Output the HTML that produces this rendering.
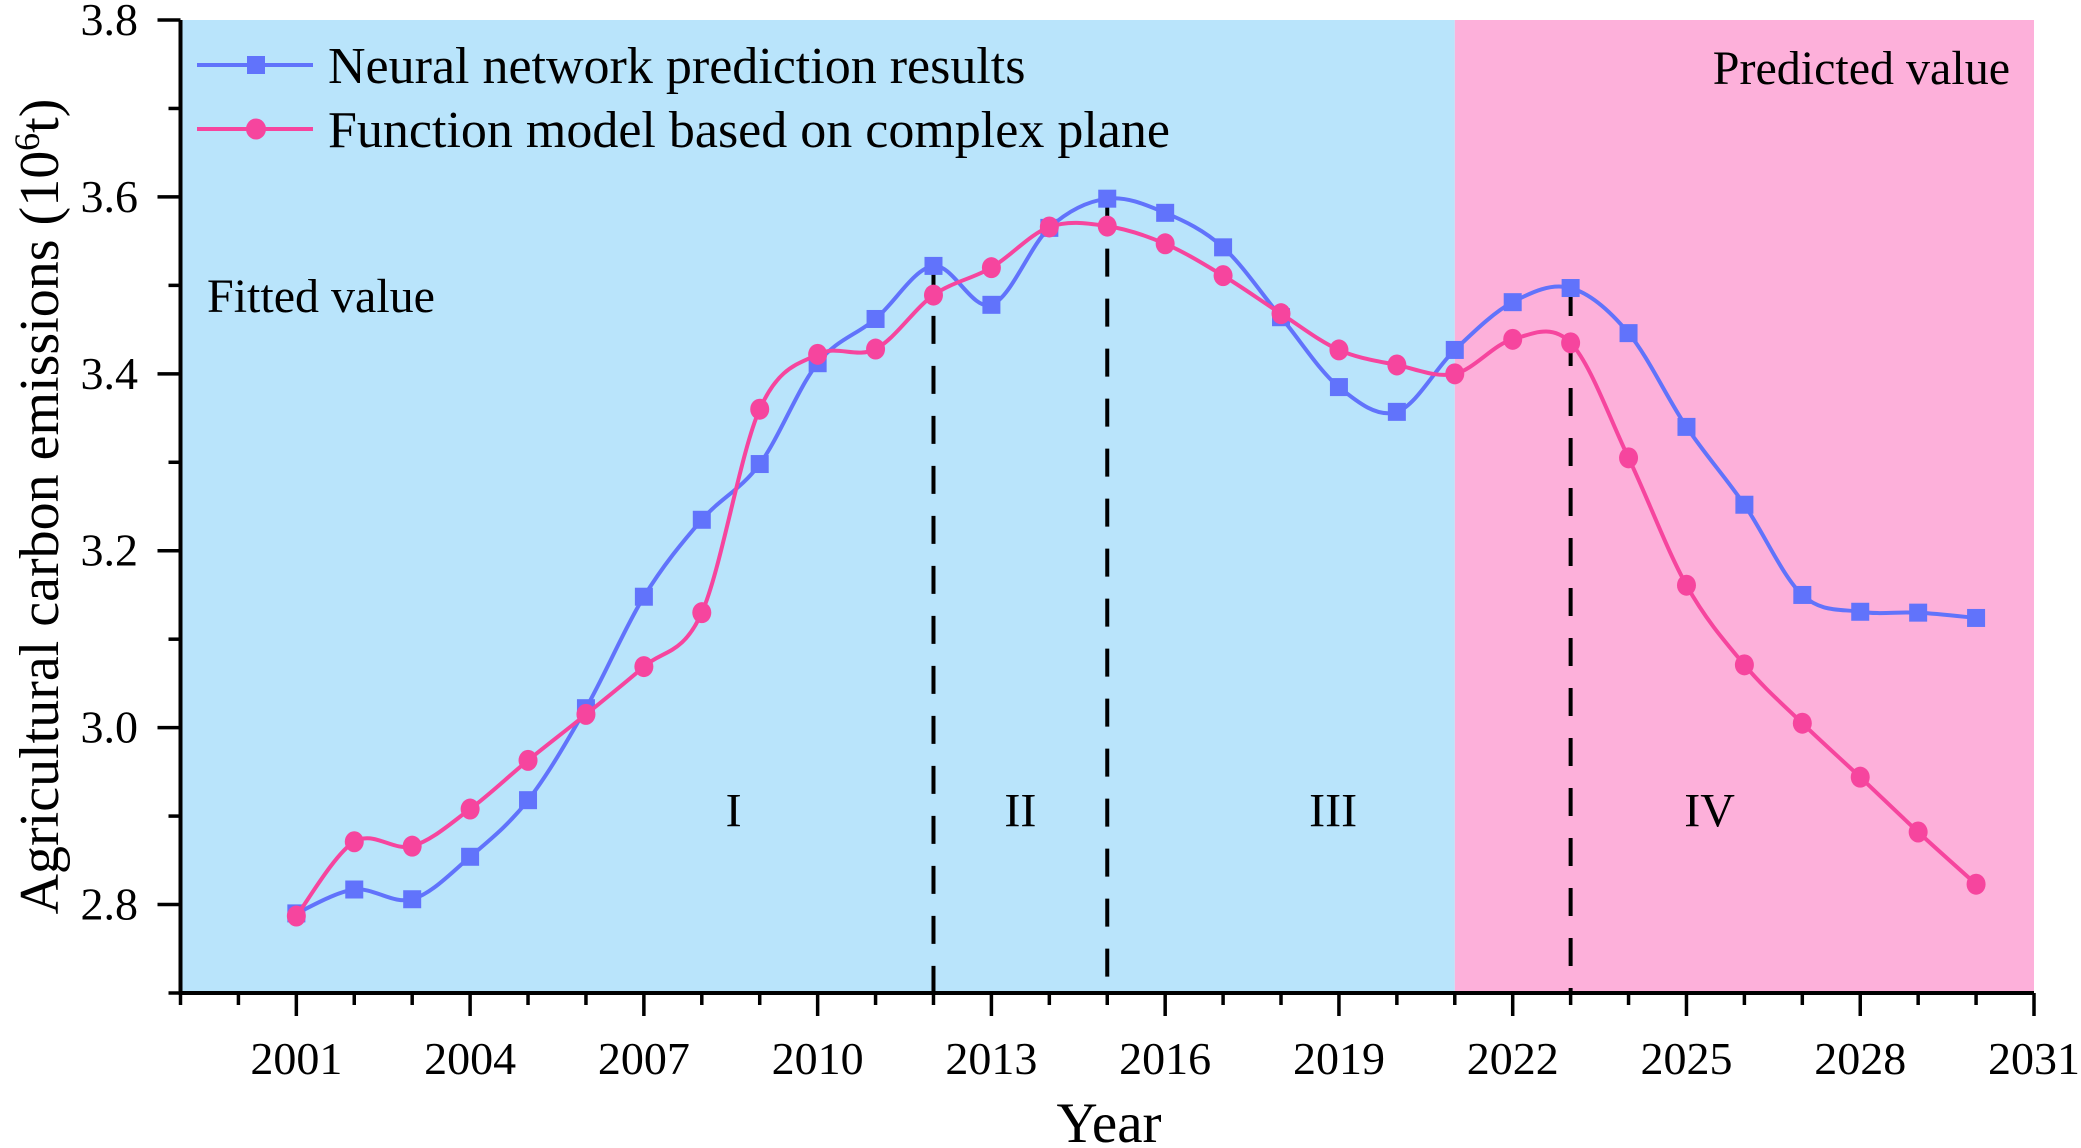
<!DOCTYPE html>
<html><head><meta charset="utf-8"><style>
html,body{margin:0;padding:0;background:#fff}
svg{display:block;font-family:"Liberation Serif",serif}
</style></head><body>
<svg id="chart" width="2081" height="1148" viewBox="0 0 2081 1148" xmlns="http://www.w3.org/2000/svg"></svg>
<script>
const years=[2001,2002,2003,2004,2005,2006,2007,2008,2009,2010,2011,2012,2013,2014,2015,2016,2017,2018,2019,2020,2021,2022,2023,2024,2025,2026,2027,2028,2029,2030];
const neural=[2.790,2.817,2.806,2.854,2.918,3.022,3.148,3.235,3.298,3.412,3.462,3.522,3.478,3.565,3.598,3.582,3.543,3.464,3.385,3.357,3.427,3.481,3.497,3.446,3.340,3.252,3.150,3.131,3.130,3.124];
const complexModel=[2.787,2.871,2.866,2.908,2.963,3.015,3.069,3.130,3.360,3.422,3.428,3.489,3.520,3.566,3.567,3.547,3.511,3.468,3.427,3.410,3.400,3.439,3.435,3.305,3.161,3.071,3.005,2.944,2.882,2.823];
const xTicks=[2001,2004,2007,2010,2013,2016,2019,2022,2025,2028,2031];
const yTicks=[2.8,3.0,3.2,3.4,3.6,3.8];
const dividerYears=[2012,2015,2023];
const stageLabels=["I","II","III","IV"];
const stageYears=[2008.55,2013.5,2018.9,2025.4];
const stageValue=2.905;
const forecastStart=2021;

const L=180.5,R=2034,T=20,B=993,X0=1999,X1=2031,Y0=2.7,Y1=3.8;
const sx=v=>L+(v-X0)/(X1-X0)*(R-L);
const sy=v=>B-(v-Y0)/(Y1-Y0)*(B-T);
const svg=document.getElementById('chart');
const NS='http://www.w3.org/2000/svg';
function mk(tag,attrs,parent){const e=document.createElementNS(NS,tag);for(const k in attrs)e.setAttribute(k,attrs[k]);(parent||svg).appendChild(e);return e;}

let r=mk('rect',{x:L,y:T,width:sx(forecastStart)-L,height:B-T,fill:'#b9e4fb'});


r=mk('rect',{x:sx(forecastStart),y:T,width:R-sx(forecastStart),height:B-T,fill:'#fdb0da'});



dividerYears.forEach(y=>{const i=years.indexOf(y);const top=Math.max(neural[i],complexModel[i]);
 const l=mk('line',{x1:sx(y),x2:sx(y),y1:sy(top),y2:B,stroke:'#000','stroke-width':4,'stroke-dasharray':'28,22'});
 
 
});

function spline(xs,ys){let d=`M${xs[0]},${ys[0]}`;const t=0.5;
 for(let i=0;i<xs.length-1;i++){const p0=i?i-1:i,p3=i+2<xs.length?i+2:i+1;
  const c1x=xs[i]+(xs[i+1]-xs[p0])*t/3,c1y=ys[i]+(ys[i+1]-ys[p0])*t/3;
  const c2x=xs[i+1]-(xs[p3]-xs[i])*t/3,c2y=ys[i+1]-(ys[p3]-ys[i])*t/3;
  d+=`C${c1x},${c1y} ${c2x},${c2y} ${xs[i+1]},${ys[i+1]}`;}
 return d;}
function series(vals,color,name,shape){
 const g=mk('g',{});
 
 
 const p=mk('path',{d:spline(years.map(sx),vals.map(sy)),fill:'none',stroke:color,'stroke-width':4},g);
 
 
 vals.forEach((v,i)=>{let m;
  if(shape==='sq')m=mk('rect',{x:sx(years[i])-9,y:sy(v)-9,width:18,height:18,fill:color},g);
  else m=mk('ellipse',{cx:sx(years[i]),cy:sy(v),rx:9.5,ry:10.5,fill:color},g);
  
  });
}
series(neural,'#6173fb','neural-network','sq');
series(complexModel,'#f6459e','function-model','ci');

let ax=mk('path',{d:`M${L},${T}V${B}H${R}`,fill:'none',stroke:'#000','stroke-width':4});


for(let y=X0;y<=X1;y++){const maj=xTicks.includes(y);
 const t=mk('line',{x1:sx(y),x2:sx(y),y1:B,y2:B+(maj?23:12),stroke:'#000','stroke-width':3.5});
 
 }
xTicks.forEach(y=>{const t=mk('text',{x:sx(y),y:1074,'font-size':46,'text-anchor':'middle'});t.textContent=y;
 
 });
for(let k=0;k<=11;k++){const v=Y0+k*0.1;const maj=k%2===1;
 const t=mk('line',{x1:L,x2:L-(maj?23:12),y1:sy(v),y2:sy(v),stroke:'#000','stroke-width':3.5});
 
 }
yTicks.forEach(v=>{const t=mk('text',{x:138,y:sy(v)+15,'font-size':46,'text-anchor':'end'});t.textContent=v.toFixed(1);
 
 });

let t=mk('text',{x:1109,y:1142,'font-size':57,'text-anchor':'middle'});t.textContent='Year';


t=mk('text',{x:0,y:0,'font-size':56,'text-anchor':'middle',transform:`translate(58,${(T+B)/2}) rotate(-90)`});
t.innerHTML='Agricultural carbon emissions (10<tspan dy="-19" font-size="36">6</tspan><tspan dy="19">t)</tspan>';



stageLabels.forEach((s,i)=>{const e=mk('text',{x:sx(stageYears[i]),y:sy(stageValue)+15,'font-size':48,'text-anchor':'middle'});e.textContent=s;
 
 });
t=mk('text',{x:207,y:312,'font-size':48});t.textContent='Fitted value';


t=mk('text',{x:2010,y:84,'font-size':48,'text-anchor':'end'});t.textContent='Predicted value';



[['Neural network prediction results','#6173fb','sq',65],['Function model based on complex plane','#f6459e','ci',129]].forEach(([lab,c,sh,y],i)=>{
 const g=mk('g',{});
 
 
 mk('line',{x1:197,x2:313,y1:y,y2:y,stroke:c,'stroke-width':4},g);
 if(sh==='sq')mk('rect',{x:247,y:y-9,width:18,height:18,fill:c},g);else mk('ellipse',{cx:256,cy:y,rx:10,ry:10.5,fill:c},g);
 const tx=mk('text',{x:328,y:y+18,'font-size':52},g);tx.textContent=lab;
});
</script>
</body></html>
